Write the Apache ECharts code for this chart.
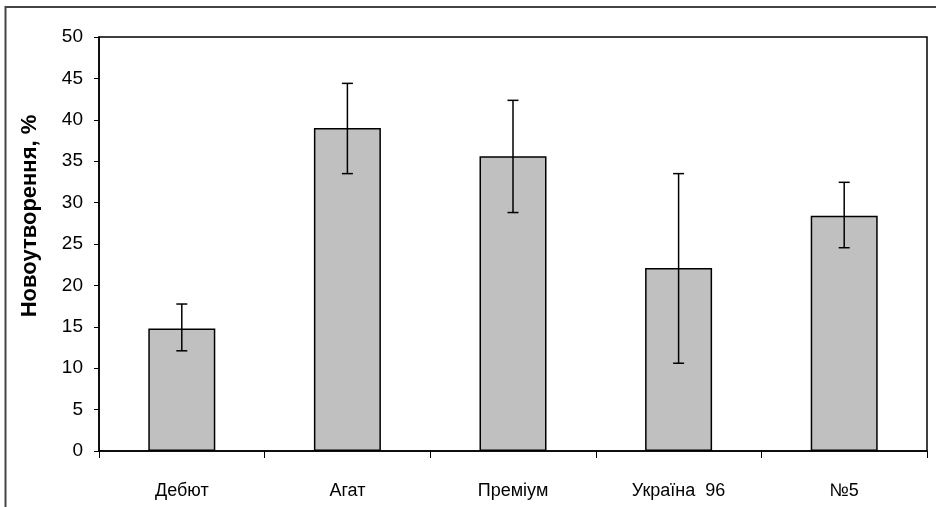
<!DOCTYPE html>
<html><head><meta charset="utf-8">
<script src="https://cdn.jsdelivr.net/npm/echarts@6/dist/echarts.min.js"></script>
<style>html,body{margin:0;padding:0;background:#fff}#c{width:936px;height:507px}</style>
</head><body><div id="c"></div>
<script>
var categories = ['Дебют', 'Агат', 'Преміум', 'Україна  96', '№5'];
var values = [14.8, 39.0, 35.6, 22.1, 28.4];
var errLow = [12.1, 33.5, 28.8, 10.6, 24.55];
var errHigh = [17.75, 44.4, 42.35, 33.5, 32.45];
var yTicks = {min: 0, max: 50, interval: 5};
var yName = 'Новоутворення, %';

var chart = echarts.init(document.getElementById('c'));
var errData = categories.map(function (c, i) { return [i, errLow[i], errHigh[i]]; });
chart.setOption({
  animation: false,
  backgroundColor: '#fff',
  graphic: [{
    type: 'rect', shape: {x: 5.5, y: 7, width: 960, height: 540},
    style: {fill: 'none', stroke: '#444', lineWidth: 2}, z: -1
  }, {
    type: 'text', x: 30, y: 216, rotation: Math.PI / 2,
    style: {text: yName, fill: '#000', font: 'bold 22px "Liberation Sans"', align: 'center', verticalAlign: 'middle'}
  }],
  grid: {left: 99, right: 9, top: 37, bottom: 56, show: true, borderColor: '#000', borderWidth: 1.5, backgroundColor: 'transparent'},
  xAxis: {
    type: 'category', data: categories,
    axisLine: {lineStyle: {color: '#000', width: 1.5}},
    axisTick: {show: true, length: 7, lineStyle: {color: '#000', width: 1}},
    axisLabel: {color: '#000', fontFamily: 'Liberation Sans', fontSize: 18, margin: 31}
  },
  yAxis: {
    type: 'value', min: yTicks.min, max: yTicks.max, interval: yTicks.interval,
    axisLine: {show: true, lineStyle: {color: '#000', width: 1.5}},
    axisTick: {show: true, length: 5, lineStyle: {color: '#000', width: 1}},
    splitLine: {show: false},
    axisLabel: {color: '#000', fontFamily: 'Liberation Sans', fontSize: 19, margin: 16}
  },
  series: [{
    type: 'bar', data: values, barWidth: 67,
    itemStyle: {color: '#c0c0c0', borderColor: '#000', borderWidth: 1.5}
  }, {
    type: 'custom', data: errData, z: 5,
    renderItem: function (params, api) {
      var i = api.value(0);
      var lo = api.coord([i, api.value(1)]);
      var hi = api.coord([i, api.value(2)]);
      var hw = 5.5;
      var st = {stroke: '#000', lineWidth: 1.5};
      return {type: 'group', children: [
        {type: 'line', shape: {x1: hi[0], y1: hi[1], x2: lo[0], y2: lo[1]}, style: st},
        {type: 'line', shape: {x1: hi[0] - hw, y1: hi[1], x2: hi[0] + hw, y2: hi[1]}, style: st},
        {type: 'line', shape: {x1: lo[0] - hw, y1: lo[1], x2: lo[0] + hw, y2: lo[1]}, style: st}
      ]};
    }
  }]
});
</script></body></html>
